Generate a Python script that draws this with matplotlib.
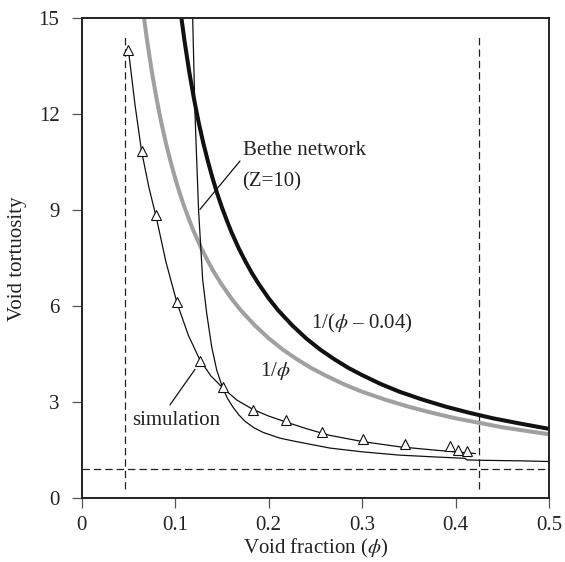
import matplotlib
matplotlib.use("Agg")
import matplotlib.pyplot as plt

plt.rcParams['font.family'] = ['Liberation Serif', 'DejaVu Serif']
plt.rcParams['mathtext.fontset'] = 'stix'
plt.rcParams['lines.scale_dashes'] = False

# Simulation data (triangles)
sim_phi = [0.050, 0.064, 0.080, 0.102, 0.126, 0.151, 0.183, 0.219, 0.257, 0.301, 0.346, 0.394, 0.403, 0.412]
sim_tau = [14.0, 10.86, 8.85, 6.14, 4.29, 3.49, 2.77, 2.44, 2.07, 1.84, 1.69, 1.63, 1.52, 1.48]

# Simulation fit line
fit_phi = [0.050, 0.057, 0.064, 0.072, 0.080, 0.090, 0.102, 0.114, 0.126, 0.138, 0.151, 0.166,
           0.183, 0.200, 0.219, 0.240, 0.265, 0.301, 0.340, 0.380, 0.421]
fit_tau = [14.0, 12.3, 10.85, 9.7, 8.75, 7.4, 6.1, 5.1, 4.35, 3.83, 3.45, 3.07,
           2.78, 2.57, 2.38, 2.18, 1.97, 1.77, 1.61, 1.50, 1.40]

# Bethe network (Z=10)
bethe_phi = [0.1187, 0.1212, 0.125, 0.1294, 0.1337, 0.139, 0.1444, 0.151, 0.156, 0.162, 0.168, 0.175,
             0.184, 0.194, 0.212, 0.230, 0.2656, 0.301, 0.340, 0.380, 0.410, 0.412, 0.425, 0.472, 0.500]
bethe_tau = [15.0, 12.0, 9.0, 6.83, 5.78, 4.74, 4.01, 3.43, 3.12, 2.84, 2.61, 2.40,
             2.21, 2.06, 1.88, 1.77, 1.57, 1.45, 1.35, 1.29, 1.25, 1.20, 1.19, 1.17, 1.15]

# 1/phi
inv_phi = [0.0667, 0.070, 0.075, 0.080, 0.085, 0.090, 0.095, 0.100, 0.105, 0.110, 0.115, 0.120,
           0.128, 0.135, 0.142, 0.150, 0.160, 0.170, 0.185, 0.200, 0.215, 0.230, 0.245, 0.260,
           0.280, 0.300, 0.325, 0.350, 0.375, 0.400, 0.450, 0.500]
inv_tau = [15.0, 14.29, 13.33, 12.5, 11.76, 11.11, 10.53, 10.0, 9.52, 9.09, 8.70, 8.33,
           7.81, 7.41, 7.04, 6.67, 6.25, 5.88, 5.41, 5.0, 4.65, 4.35, 4.08, 3.85,
           3.57, 3.33, 3.08, 2.86, 2.67, 2.5, 2.22, 2.0]

# 1/(phi - 0.04)
sh_phi = [0.1067, 0.110, 0.115, 0.120, 0.125, 0.130, 0.135, 0.140, 0.145, 0.150, 0.155, 0.160,
          0.168, 0.175, 0.182, 0.190, 0.200, 0.210, 0.225, 0.240, 0.255, 0.270, 0.285, 0.300,
          0.320, 0.340, 0.365, 0.390, 0.415, 0.440, 0.470, 0.500]
sh_tau = [15.0, 14.29, 13.33, 12.5, 11.76, 11.11, 10.53, 10.0, 9.52, 9.09, 8.70, 8.33,
          7.81, 7.41, 7.04, 6.67, 6.25, 5.88, 5.41, 5.0, 4.65, 4.35, 4.08, 3.85,
          3.57, 3.33, 3.08, 2.86, 2.67, 2.5, 2.33, 2.17]

# Reference (dashed) lines
vline_left = 0.046
vline_right = 0.425
hline = 0.92

x_ticks = [0, 0.1, 0.2, 0.3, 0.4, 0.5]
x_tick_labels = ['0', '0.1', '0.2', '0.3', '0.4', '0.5']
y_ticks = [0, 3, 6, 9, 12, 15]

fig = plt.figure(figsize=(5.65, 5.62), dpi=100)
ax = fig.add_axes([0.1446, 0.1133, 0.8274, 0.8541])

dash = (5.3, 2.9)
ax.plot([vline_left, vline_left], [0.3, 14.5], color='#222222', lw=0.9, dashes=dash)
ax.plot([vline_right, vline_right], [0.3, 14.5], color='#222222', lw=0.9, dashes=dash)
ax.plot([0, 0.5], [hline, hline], color='#222222', lw=0.9, dashes=dash)

ax.plot(inv_phi, inv_tau, color='#a0a0a0', lw=2.9, solid_capstyle='butt', solid_joinstyle='round')
ax.plot(sh_phi, sh_tau, color='#111111', lw=2.9, solid_capstyle='butt', solid_joinstyle='round')
ax.plot(bethe_phi, bethe_tau, color='#111111', lw=0.9)
ax.plot(fit_phi, fit_tau, color='#111111', lw=0.9)
ax.plot(sim_phi, sim_tau, linestyle='none', marker='^', markersize=6.5,
        markerfacecolor='white', markeredgecolor='#111111', markeredgewidth=0.8)

fs = 15
ax.text(0.172, 10.73, 'Bethe network', fontsize=fs, color='#222222', va='baseline', ha='left')
ax.text(0.172, 9.74, '(Z=10)', fontsize=fs, color='#222222', va='baseline', ha='left')
ax.annotate('', xy=(0.1265, 9.03), xytext=(0.1693, 10.54),
            arrowprops=dict(arrowstyle='-', lw=0.9, color='#111111', shrinkA=0, shrinkB=0))
ax.text(0.0535, 2.29, 'simulation', fontsize=fs, color='#222222', va='baseline', ha='left')
ax.annotate('', xy=(0.0944, 2.92), xytext=(0.1212, 4.03),
            arrowprops=dict(arrowstyle='-', lw=0.9, color='#111111', shrinkA=0, shrinkB=0))
ax.text(0.1907, 3.83, r'1/$\phi$', fontsize=fs, color='#222222', va='baseline', ha='left')
ax.text(0.245, 5.31, r'1/($\phi$ – 0.04)', fontsize=fs, color='#222222', va='baseline', ha='left')

ax.set_xlim(0, 0.5)
ax.set_ylim(0, 15)
ax.set_xticks(x_ticks)
ax.set_xticklabels(x_tick_labels)
ax.set_yticks(y_ticks)
ax.tick_params(axis='both', direction='out', length=7, width=0.9, color='#555555',
               labelsize=fs, labelcolor='#222222', top=False, right=False)
ax.tick_params(axis='y', pad=9)
ax.tick_params(axis='x', pad=6)
for s in ax.spines.values():
    s.set_linewidth(1.4)
    s.set_color('#222222')

ax.set_xlabel(r'Void fraction ($\phi$)', fontsize=fs, color='#222222', labelpad=1)
ax.set_ylabel('Void tortuosity', fontsize=fs, color='#222222', labelpad=8)

fig.savefig('out.png', dpi=100)
